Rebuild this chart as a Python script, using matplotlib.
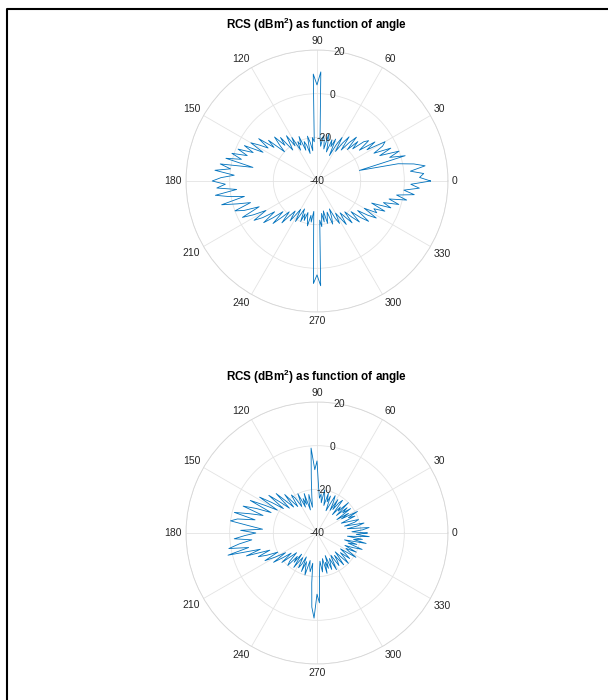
import numpy as np
import matplotlib
matplotlib.use('Agg')
import matplotlib.pyplot as plt
from matplotlib.lines import Line2D
from matplotlib.transforms import offset_copy

plt.rcParams['font.family'] = ['Liberation Sans', 'DejaVu Sans']
plt.rcParams['mathtext.fontset'] = 'custom'
plt.rcParams['mathtext.rm'] = 'Liberation Sans'
plt.rcParams['mathtext.bf'] = 'Liberation Sans:bold'

# aspect angle in degrees, 2 degree steps
angles_deg = list(range(0, 360, 2))

# RCS in dBm^2
rcs_top = [
    12, 7, 9, 3, 10, 5, -2, -20, 2, -5,
    0, -9, -3, -11, -6, -4, -13, -8, -16, -10,
    -12, -18, -14, -20, -13, -17, -22, -15, -19, -24,
    -17, -21, -27, -19, -23, -20, -26, -22, -18, -25,
    -21, -19, -24, -20, 10, 4, 9, -22, -20, -26,
    -22, -19, -27, -23, -21, -25, -18, -22, -20, -24,
    -17, -21, -15, -19, -22, -14, -18, -12, -16, -20,
    -11, -15, -7, -13, -9, -5, -12, -3, -8, -1,
    -6, 1, -4, 3, -10, 5, 0, 7, -2, 4,
    8, 2, 6, -3, 7, 1, -6, 5, -2, -8,
    0, -4, -11, -2, -7, -13, -6, -10, -16, -9,
    -14, -19, -12, -17, -21, -15, -20, -23, -18, -22,
    -25, -19, -23, -26, -20, -24, -21, -25, -22, -19,
    -24, -21, -26, -18, 7, 3, 8, -22, -19, -25,
    -21, -26, -20, -23, -25, -19, -22, -26, -21, -18,
    -23, -20, -16, -22, -19, -15, -21, -17, -13, -19,
    -14, -10, -17, -12, -8, -15, -9, -11, -6, -13,
    -4, -8, -1, -6, 2, -3, 5, 0, 7, 3,
]

# RCS in dBm^2
rcs_bottom = [
    -17, -24, -19, -16, -26, -21, -18, -27, -22, -20,
    -25, -28, -21, -24, -19, -27, -23, -29, -21, -25,
    -22, -28, -20, -26, -24, -29, -21, -23, -27, -22,
    -28, -24, -21, -26, -29, -22, -25, -21, -27, -23,
    -20, -26, -22, -24, -19, -7, -11, -1, -15, -23,
    -28, -22, -25, -29, -21, -26, -23, -27, -20, -24,
    -26, -21, -19, -25, -22, -17, -24, -20, -14, -23,
    -18, -12, -21, -15, -9, -19, -13, -6, -17, -10,
    -4, -14, -8, -1, -11, -3, 0, -9, -15, -5,
    -12, -7, -2, -10, -4, 1, -8, 2, -13, -6,
    -17, -11, -15, -20, -13, -18, -23, -16, -21, -25,
    -19, -24, -27, -22, -20, -26, -23, -28, -21, -25,
    -27, -22, -24, -28, -21, -26, -23, -20, -27, -24,
    -22, -26, -17, -6, -1, -12, -8, -23, -27, -22,
    -25, -28, -21, -26, -23, -29, -22, -25, -27, -21,
    -26, -28, -22, -24, -27, -21, -25, -28, -20, -23,
    -26, -21, -24, -27, -19, -23, -25, -20, -26, -22,
    -18, -25, -21, -27, -17, -23, -19, -26, -16, -22,
]

theta_ticks = list(range(0, 360, 30))
r_ticks = [-40, -20, 0, 20]
title = r'RCS (dBm$^\mathbf{2}$) as function of angle'

W, H = 608, 700
fig = plt.figure(figsize=(W / 100, H / 100), dpi=100)

text_col = '#262626'
grid_col = '#e3e3e3'


def polar_panel(cx, cy, rad, values):
    ax = fig.add_axes([(cx - rad) / W, 1 - (cy + rad) / H, 2 * rad / W, 2 * rad / H],
                      projection='polar')
    th = np.deg2rad(angles_deg + [360])
    ax.plot(th, values + values[:1], color='#0072BD', lw=0.6)
    ax.set_rlim(-40, 20)
    ax.set_xticks(np.deg2rad(theta_ticks))
    ax.set_xticklabels([])
    ax.set_yticks(r_ticks)
    ax.set_yticklabels([])
    ax.grid(True, color=grid_col, lw=0.6)
    ax.spines['polar'].set_color('#d6d6d6')
    ax.spines['polar'].set_linewidth(0.6)
    for t in theta_ticks:
        a = np.deg2rad(t)
        c, s = np.cos(a), np.sin(a)
        ha = 'left' if c > 0.3 else ('right' if c < -0.3 else 'center')
        va = 'bottom' if s > 0.3 else ('top' if s < -0.3 else 'center')
        tr = offset_copy(ax.transData, fig=fig, x=4 * c, y=4 * s, units='dots')
        ax.text(a, 20, str(t), transform=tr, ha=ha, va=va, fontsize=7.5,
                color=text_col, clip_on=False)
    for rv in r_ticks:
        ax.text(np.deg2rad(80), rv, str(rv), ha='center', va='center',
                fontsize=7.5, color=text_col, clip_on=False)
    fig.text(cx / W, 1 - (cy - rad - 25) / H, title, ha='center', va='center',
             fontsize=8.4, fontweight='bold', color='black')
    return ax


polar_panel(317, 181, 131, rcs_top)
polar_panel(317, 533, 131, rcs_bottom)

# frame, only its top and left edges are inside the picture
fig.add_artist(Line2D([7 / W, 7 / W, 1], [0, 1 - 9 / H, 1 - 9 / H],
                      transform=fig.transFigure, color='black', lw=1.5))

fig.savefig('out.png', dpi=100)
